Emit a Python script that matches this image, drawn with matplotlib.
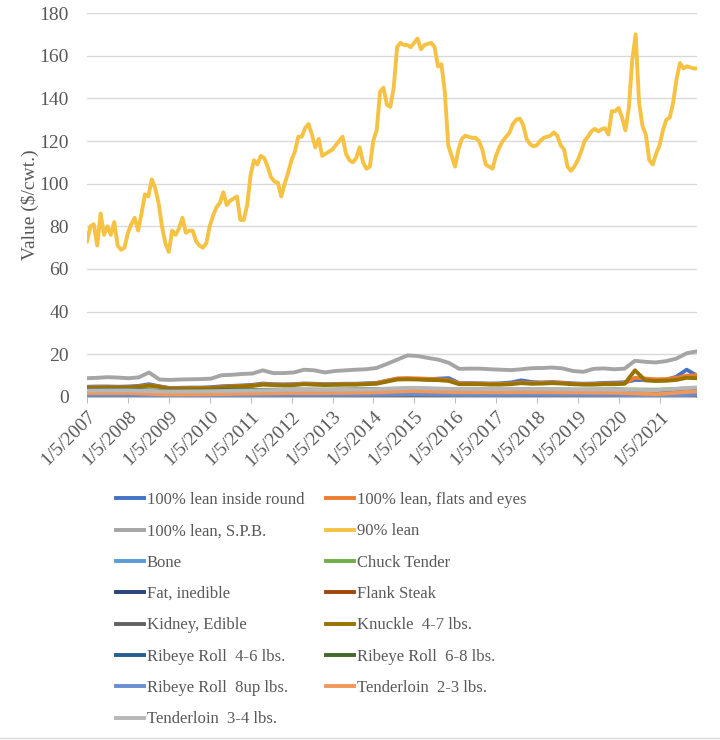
import numpy as np
import pandas as pd
from matplotlib import pyplot as plt
from matplotlib.lines import Line2D

plt.rcParams['font.family'] = ['Liberation Serif', 'DejaVu Serif']

start = '2007-01-05'
end = '2021-12-03'

# 90% lean, read roughly once a month
lean90 = [73, 80, 81, 71, 86, 76, 80, 76, 82, 71, 69, 70, 77, 81, 84, 78, 86, 95, 94, 102,
          98, 91, 80, 72, 68, 78, 76, 79, 84, 77, 78, 78, 73, 71, 70, 72, 80, 85, 89, 91,
          96, 90, 92, 93, 94, 83, 83, 90, 104, 111, 109, 113, 112, 108, 103, 101, 100.5, 94, 100, 105,
          111, 115, 122, 122, 126, 128, 123, 117, 121, 113, 114, 115, 116, 118, 120, 122, 114, 111, 110, 112,
          117, 110, 107, 108, 120, 125, 143, 145, 137, 136, 145, 164, 166, 165, 165, 164, 166, 168, 163, 165,
          165.5, 166, 164, 155, 156, 143, 118, 113, 108, 116, 121, 122.5, 122, 121.5, 121.5, 120, 116, 109, 108, 107,
          113, 117, 120, 122, 124, 128, 130, 130.5, 127.5, 121, 118.5, 117.5, 118, 120, 121.5, 122, 122.5, 124, 122.5, 118,
          116, 108, 106, 108, 111, 115, 120, 122, 124.5, 125.7, 124.5, 125.5, 126, 123, 134, 134, 135.5, 131, 125, 135.5,
          158, 170, 138, 127, 123, 111, 109, 114, 118, 125, 130, 131, 138, 149, 156.5, 154, 155, 154.5, 154, 154]

# main low series, read about once a quarter
spb = [8.8, 9.0, 9.3, 9.1, 8.8, 9.2, 11.5, 8.2, 8.0, 8.2, 8.3, 8.4, 8.6, 10.2, 10.4, 10.8, 11.0, 12.5, 11.2, 11.2,
       11.5, 12.8, 12.5, 11.5, 12.2, 12.5, 12.8, 13.0, 13.6, 15.5, 17.5, 19.5, 19.2, 18.3, 17.5, 16.0, 13.2, 13.3, 13.3, 13.0,
       12.8, 12.6, 13.0, 13.5, 13.6, 13.8, 13.4, 12.2, 11.8, 13.2, 13.4, 13.0, 13.3, 17.0, 16.5, 16.2, 16.8, 18.0, 20.5, 21.4]
knuckle = [4.3, 4.4, 4.5, 4.4, 4.5, 4.8, 5.3, 4.8, 3.8, 3.9, 4.0, 4.0, 4.1, 4.5, 4.8, 5.0, 5.2, 5.8, 5.6, 5.5,
           5.6, 6.0, 5.8, 5.6, 5.7, 5.8, 5.8, 6.0, 6.2, 7.2, 8.2, 8.3, 8.2, 8.0, 7.9, 7.5, 6.0, 6.0, 6.0, 5.8,
           5.8, 6.0, 6.5, 6.2, 6.3, 6.5, 6.3, 6.0, 5.8, 5.8, 6.0, 6.0, 6.2, 12.5, 7.8, 7.5, 7.6, 8.0, 9.0, 8.8]
inside_round = [4.8, 4.9, 4.9, 4.8, 4.9, 5.2, 6.0, 5.0, 4.2, 4.3, 4.4, 4.4, 4.6, 5.0, 5.2, 5.4, 5.7, 6.3, 6.0, 5.9,
                6.0, 6.3, 6.2, 6.0, 6.1, 6.2, 6.2, 6.4, 6.6, 7.6, 8.5, 8.6, 8.4, 8.3, 8.6, 8.8, 6.5, 6.5, 6.4, 6.3,
                6.4, 6.8, 7.8, 7.0, 6.8, 7.0, 6.7, 6.4, 6.2, 6.3, 6.6, 6.7, 6.9, 8.0, 8.0, 7.8, 8.0, 9.5, 12.8, 10.0]
flats_eyes = [4.5, 4.6, 4.6, 4.5, 4.6, 4.9, 5.5, 4.9, 4.0, 4.1, 4.2, 4.2, 4.3, 4.7, 5.0, 5.2, 5.4, 6.0, 5.8, 5.7,
              5.8, 6.2, 6.0, 5.8, 5.9, 6.0, 6.0, 6.2, 6.5, 7.6, 8.7, 8.8, 8.7, 8.5, 8.3, 7.9, 6.4, 6.3, 6.3, 6.1,
              6.1, 6.3, 6.8, 6.5, 6.6, 6.8, 6.6, 6.2, 6.0, 6.0, 6.3, 6.3, 6.5, 9.0, 8.6, 8.3, 8.4, 9.0, 10.0, 10.2]

# small series, read about once a year
bone = [0.2, 0.2, 0.1, 0.1, 0.2, 0.2, 0.2, 0.2, 0.2, 0.1, 0.1, 0.1, 0.1, 0.1, 0.1, 0.2]
chuck_tender = [3.3, 3.3, 2.9, 3.0, 3.3, 3.5, 3.5, 3.7, 4.0, 3.6, 3.5, 3.6, 3.4, 3.6, 3.4, 4.2]
fat_inedible = [0.5, 0.6, 0.3, 0.4, 0.6, 0.6, 0.6, 0.6, 0.6, 0.4, 0.4, 0.4, 0.4, 0.3, 0.4, 0.7]
flank = [0.9, 1.0, 0.7, 0.8, 1.0, 1.2, 1.2, 1.3, 1.6, 1.4, 1.3, 1.3, 1.2, 1.1, 1.0, 1.8]
kidney = [0.3, 0.3, 0.2, 0.2, 0.3, 0.3, 0.3, 0.3, 0.4, 0.3, 0.3, 0.3, 0.3, 0.3, 0.3, 0.4]
ribeye_46 = [3.1, 3.2, 2.8, 2.9, 3.2, 3.4, 3.3, 3.5, 3.9, 3.5, 3.4, 3.5, 3.3, 3.4, 3.0, 4.0]
ribeye_68 = [3.0, 3.1, 2.7, 2.8, 3.1, 3.3, 3.2, 3.4, 3.8, 3.4, 3.3, 3.4, 3.2, 3.3, 2.9, 3.9]
ribeye_8up = [1.0, 1.0, 0.8, 0.8, 0.9, 1.0, 1.0, 1.1, 1.3, 1.1, 1.0, 1.1, 1.0, 1.0, 0.3, 1.2]
tender_23 = [1.8, 1.9, 1.2, 1.3, 1.6, 1.9, 1.9, 2.1, 2.8, 2.3, 2.2, 2.3, 2.1, 2.0, 1.3, 2.7]
tender_34 = [3.0, 3.1, 2.6, 2.7, 3.0, 3.4, 3.4, 3.6, 4.3, 3.8, 3.7, 3.8, 3.6, 3.5, 3.2, 4.5]

names = ['100% lean inside round', '100% lean, flats and eyes', '100% lean, S.P.B.', '90% lean',
         'Bone', 'Chuck Tender', 'Fat, inedible', 'Flank Steak', 'Kidney, Edible', 'Knuckle  4-7 lbs.',
         'Ribeye Roll  4-6 lbs.', 'Ribeye Roll  6-8 lbs.', 'Ribeye Roll  8up lbs.',
         'Tenderloin  2-3 lbs.', 'Tenderloin  3-4 lbs.']
series = [inside_round, flats_eyes, spb, lean90, bone, chuck_tender, fat_inedible, flank, kidney,
          knuckle, ribeye_46, ribeye_68, ribeye_8up, tender_23, tender_34]
colors = ['#4472C4', '#ED7D31', '#A5A5A5', '#F6C244', '#5B9BD5', '#70AD47', '#264478', '#9E480E',
          '#636363', '#997300', '#255E91', '#43682B', '#698ED0', '#F1975A', '#B7B7B7']

years = list(range(2007, 2022))

fig = plt.figure(figsize=(7.2, 7.4), dpi=100)
ax = fig.add_axes([87 / 720, 1 - 397 / 740, 610 / 720, 384 / 740])

handles = []
for name, vals, c in zip(names, series, colors):
    dates = pd.date_range(start, end, periods=len(vals))
    h, = ax.plot(dates, vals, color=c, lw=2.8, label=name, solid_joinstyle='round')
    handles.append(h)

ax.set_xlim(pd.Timestamp(start), pd.Timestamp(end))
ax.set_ylim(0, 180)
ax.set_yticks(np.arange(0, 181, 20))
ax.set_xticks([pd.Timestamp(f'{y}-01-05') for y in years])
ax.set_xticklabels([f'1/5/{y}' for y in years], rotation=45, ha='right', va='top',
                   rotation_mode='anchor')

ax.grid(axis='y', color='#D9D9D9', lw=1)
ax.set_axisbelow(True)
for s in ['top', 'right', 'left']:
    ax.spines[s].set_visible(False)
ax.spines['bottom'].set_color('#BFBFBF')
ax.tick_params(axis='y', length=0, pad=13, labelsize=14, labelcolor='#595959')
ax.tick_params(axis='x', length=4, color='#BFBFBF', pad=4, labelsize=14, labelcolor='#595959')
ax.set_ylabel('Value ($/cwt.)', fontsize=14, color='#595959', labelpad=0.5)

order = [0, 2, 4, 6, 8, 10, 12, 14, 1, 3, 5, 7, 9, 11, 13]
leg = fig.legend([handles[i] for i in order], [names[i] for i in order], ncol=2,
                 loc='upper left', bbox_to_anchor=(116 / 720, 1 - 492 / 740),
                 frameon=False, fontsize=12, borderpad=0, borderaxespad=0,
                 handlelength=1.7, handletextpad=0.15, columnspacing=1.3, labelspacing=0.92)
for t in leg.get_texts():
    t.set_color('#595959')
for l in leg.get_lines():
    l.set_linewidth(2.8)

fig.add_artist(Line2D([0, 1], [1 - 738 / 740] * 2, color='#D9D9D9', lw=1))

fig.savefig('out.png', dpi=100, facecolor='white')
